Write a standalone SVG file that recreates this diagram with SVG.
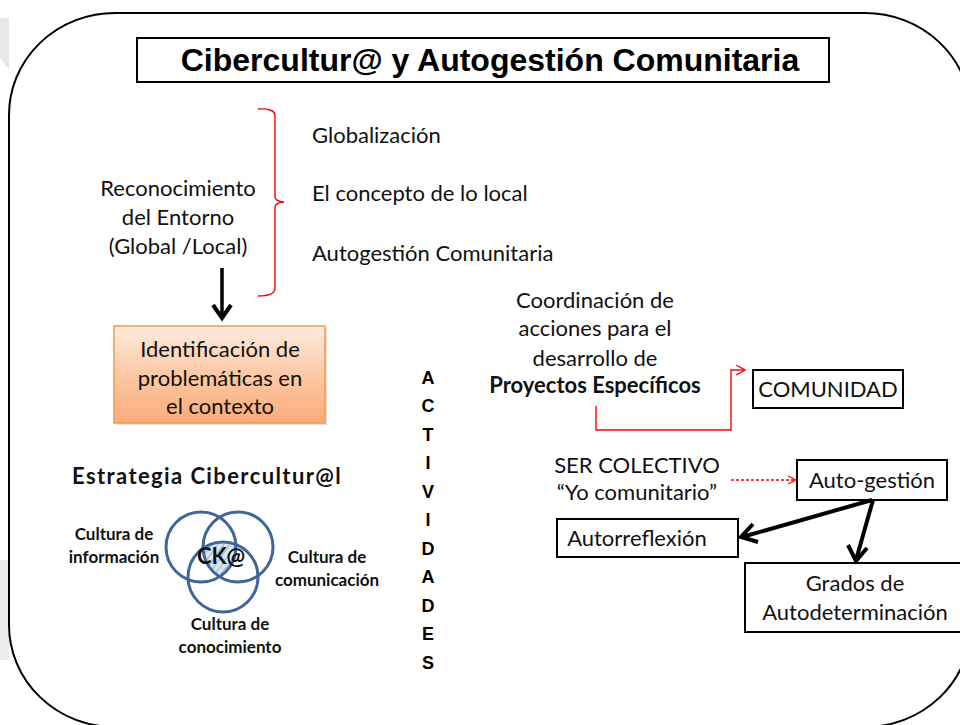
<svg xmlns="http://www.w3.org/2000/svg" width="960" height="725" viewBox="0 0 960 725">
<defs>
<style>
.t{font-family:Lato,"Open Sans","Liberation Sans",sans-serif;font-size:22px;fill:#111}
.c{text-anchor:middle}
.b{font-weight:bold}
.v{font-family:"Liberation Sans",Arial,sans-serif;font-weight:bold;font-size:18px;text-anchor:middle;fill:#000}
.sm{font-family:Lato,"Open Sans","Liberation Sans",sans-serif;font-size:17px;font-weight:bold;text-anchor:middle;fill:#111}
.box{fill:#fff;stroke:#000;stroke-width:2}
.ven{fill:none;stroke:#3f6696;stroke-width:3}
.red{fill:none;stroke:#f00;stroke-width:1.4}
.blk{fill:none;stroke:#000;stroke-width:4;stroke-linejoin:miter}
</style>
<linearGradient id="og" x1="0" y1="0" x2="0" y2="1">
<stop offset="0" stop-color="#fdebde"/>
<stop offset="0.5" stop-color="#fcc9a5"/>
<stop offset="1" stop-color="#fbab78"/>
</linearGradient>
<marker id="ra" markerWidth="12" markerHeight="12" refX="10" refY="5" orient="auto" markerUnits="userSpaceOnUse">
<path d="M1,0 L10,5 L1,10" fill="none" stroke="#f00" stroke-width="1.4"/>
</marker>
<marker id="ra2" markerWidth="12" markerHeight="12" refX="10" refY="5" orient="auto" markerUnits="userSpaceOnUse">
<path d="M2,1 L10,5 L2,9" fill="none" stroke="#f00" stroke-width="1.2"/>
</marker>
<clipPath id="c1"><circle cx="201" cy="547" r="35"/></clipPath>
<clipPath id="c2"><circle cx="238" cy="547" r="35"/></clipPath>
<clipPath id="c3"><circle cx="223" cy="577" r="35"/></clipPath>
<pattern id="hat" width="5" height="5" patternUnits="userSpaceOnUse" patternTransform="rotate(35)">
<rect width="5" height="5" fill="#dbe6f3"/>
<line x1="0" y1="0" x2="0" y2="5" stroke="#7fa3cf" stroke-width="1.5"/>
</pattern>
</defs>
<rect width="960" height="725" fill="#fff"/>
<!-- faint background shapes -->
<path d="M0,18 L9,18 L9,70 L0,58 Z" fill="#e8e8e8"/>
<path d="M0,560 L9,560 L9,660 L0,660 Z" fill="#ececec"/>
<!-- outer frame -->
<rect x="9" y="13" width="962" height="714" rx="106" ry="102" fill="none" stroke="#000" stroke-width="2"/>

<g id="title">
<rect x="137" y="38" width="692" height="44" class="box"/>
<text x="490" y="71" font-family="Liberation Sans,Arial,sans-serif" font-weight="bold" font-size="32" text-anchor="middle">Cibercultur@ y Autogestión Comunitaria</text>
</g>

<g id="reconocimiento">
<text class="t c" x="178" y="196">Reconocimiento</text>
<text class="t c" x="178" y="225">del Entorno</text>
<text class="t c" x="178" y="254">(Global /Local)</text>
</g>

<g id="bracket">
<path class="red" d="M258,109 Q275,108 275,116 L275,197 Q275,201 284,202 Q275,203 275,207 L275,288 Q275,296 258,296"/>
</g>

<g id="items">
<text class="t" x="312" y="143">Globalización</text>
<text class="t" x="312" y="201">El concepto de lo local</text>
<text class="t" x="312" y="261">Autogestión Comunitaria</text>
</g>

<g id="identificacion">
<rect x="116" y="328" width="211" height="97" fill="#000" opacity="0.12"/>
<rect x="114" y="326" width="211" height="97" fill="url(#og)" stroke="#f79646" stroke-width="1.5"/>
<text class="t c" x="220" y="357">Identificación de</text>
<text class="t c" x="220" y="386">problemáticas en</text>
<text class="t c" x="220" y="414">el contexto</text>
</g>

<g id="estrategia">
<text class="t b" x="72" y="484" font-size="26" letter-spacing="1.4">Estrategia Cibercultur@l</text>
</g>

<g id="venn">
<g clip-path="url(#c1)"><g clip-path="url(#c2)"><rect x="160" y="500" width="120" height="120" fill="url(#hat)" clip-path="url(#c3)"/></g></g>
<circle class="ven" cx="201" cy="547" r="35"/>
<circle class="ven" cx="238" cy="547" r="35"/>
<circle class="ven" cx="223" cy="577" r="35"/>
<text class="t b c" x="221" y="564" font-size="21">CK@</text>
<text class="sm" x="114" y="540">Cultura de</text>
<text class="sm" x="114" y="563">información</text>
<text class="sm" x="327" y="563">Cultura de</text>
<text class="sm" x="327" y="586">comunicación</text>
<text class="sm" x="230" y="630">Cultura de</text>
<text class="sm" x="230" y="653">conocimiento</text>
</g>

<g id="actividades">
<text class="v" x="428" y="384">A</text>
<text class="v" x="428" y="412">C</text>
<text class="v" x="428" y="441">T</text>
<text class="v" x="428" y="469">I</text>
<text class="v" x="428" y="498">V</text>
<text class="v" x="428" y="526">I</text>
<text class="v" x="428" y="555">D</text>
<text class="v" x="428" y="583">A</text>
<text class="v" x="428" y="612">D</text>
<text class="v" x="428" y="640">E</text>
<text class="v" x="428" y="669">S</text>
</g>

<g id="coordinacion">
<text class="t c" x="595" y="308">Coordinación de</text>
<text class="t c" x="595" y="336">acciones para el</text>
<text class="t c" x="595" y="366">desarrollo de</text>
<text class="t c b" x="595" y="393">Proyectos Específicos</text>
</g>

<g id="comunidad">
<rect x="753" y="370" width="150" height="38" class="box"/>
<text class="t c" x="828" y="397">COMUNIDAD</text>
</g>

<g id="ser">
<text class="t c" x="637" y="473">SER COLECTIVO</text>
<text class="t c" x="637" y="500">“Yo comunitario”</text>
</g>

<g id="autogestion">
<rect x="797" y="460" width="150" height="40" class="box"/>
<text class="t c" x="872" y="488">Auto-gestión</text>
</g>

<g id="autorreflexion">
<rect x="557" y="519" width="181" height="38" class="box"/>
<text class="t c" x="637" y="546">Autorreflexión</text>
</g>

<g id="grados">
<rect x="745" y="563" width="222" height="69" class="box"/>
<text class="t c" x="855" y="591">Grados de</text>
<text class="t c" x="855" y="620">Autodeterminación</text>
</g>

<g id="connectors">
<line x1="222" y1="268" x2="222" y2="316" stroke="#000" stroke-width="3.5"/>
<path d="M213,305 L222,318 L231,305" class="blk" stroke-width="3.5"/>
<path class="red" d="M596,406 L596,430 L731,430 L731,370 L745,370" marker-end="url(#ra)"/>
<line x1="731" y1="480" x2="796" y2="480" stroke="#f00" stroke-width="1.3" stroke-dasharray="3,2" marker-end="url(#ra2)"/>
<line x1="872" y1="500" x2="742" y2="537" class="blk"/>
<path d="M753,524 L741,537 L758,542" class="blk"/>
<line x1="873" y1="500" x2="856" y2="560" class="blk"/>
<path d="M848,545 L856,561 L867,548" class="blk"/>
</g>
</svg>
